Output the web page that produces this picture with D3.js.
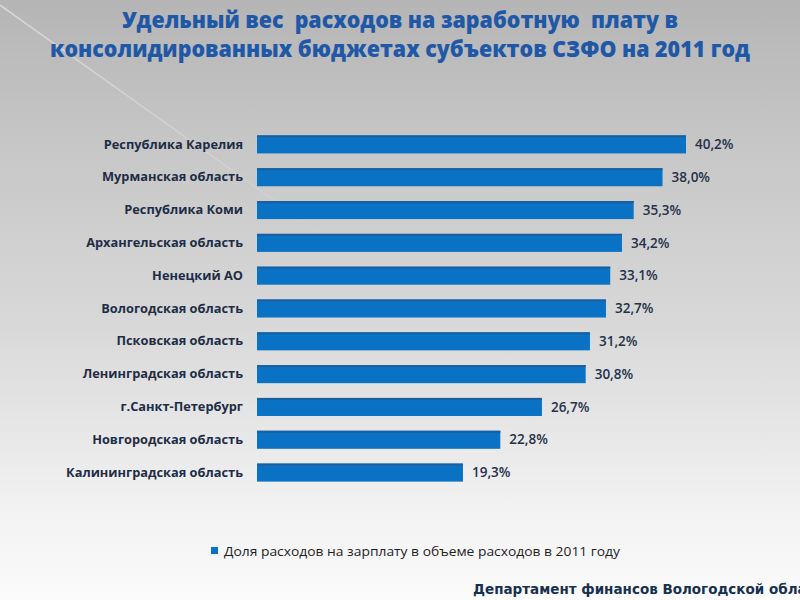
<!DOCTYPE html>
<html>
<head>
<meta charset="utf-8">
<script src="https://cdn.jsdelivr.net/npm/d3@7"></script>
<style>
  html, body { margin: 0; padding: 0; width: 800px; height: 600px; overflow: hidden; }
  svg { display: block; }
</style>
</head>
<body>
<svg id="chart" width="800" height="600"></svg>
<script>
const titleLines = [
  "Удельный вес  расходов на заработную  плату в",
  "консолидированных бюджетах субъектов СЗФО на 2011 год"
];
const categories = [
  "Республика Карелия",
  "Мурманская область",
  "Республика Коми",
  "Архангельская область",
  "Ненецкий АО",
  "Вологодская область",
  "Псковская область",
  "Ленинградская область",
  "г.Санкт-Петербург",
  "Новгородская область",
  "Калининградская область"
];
const values = [40.2, 38.0, 35.3, 34.2, 33.1, 32.7, 31.2, 30.8, 26.7, 22.8, 19.3];
const seriesName = "Доля расходов на зарплату в объеме расходов в 2011 году";
const footerText = "Департамент финансов Вологодской области";

const svg = d3.select("#chart");
const W = 800, H = 600;

// background gradient
const defs = svg.append("defs");
const bg = defs.append("linearGradient").attr("id", "bg")
  .attr("x1", 0).attr("y1", 0).attr("x2", 0).attr("y2", 1);
bg.append("stop").attr("offset", "0%").attr("stop-color", "#b5b5b5");
bg.append("stop").attr("offset", "25%").attr("stop-color", "#c7c7c7");
bg.append("stop").attr("offset", "55%").attr("stop-color", "#d9d9d9");
bg.append("stop").attr("offset", "85%").attr("stop-color", "#f2f2f2");
bg.append("stop").attr("offset", "100%").attr("stop-color", "#fbfbfb");
svg.append("rect").attr("width", W).attr("height", H).attr("fill", "url(#bg)");

// faint diagonal highlight
const dl = defs.append("linearGradient").attr("id", "dl")
  .attr("x1", 0).attr("y1", 0).attr("x2", 1).attr("y2", 1);
dl.append("stop").attr("offset", "0%").attr("stop-color", "#ffffff").attr("stop-opacity", 0.5);
dl.append("stop").attr("offset", "100%").attr("stop-color", "#ffffff").attr("stop-opacity", 0);
svg.append("line").attr("x1", 0).attr("y1", 5).attr("x2", 330).attr("y2", 240)
  .attr("stroke", "url(#dl)").attr("stroke-width", 1.5);

// title
const title = svg.append("g");
titleLines.forEach((t, i) => {
  title.append("text")
    .attr("x", 400).attr("y", [28, 57][i])
    .attr("text-anchor", "middle")
    .attr("font-family", "'Open Sans', 'Noto Sans', sans-serif")
    .attr("font-weight", 800)
    .attr("font-size", 22.5)
    .attr("fill", "#1f58a6")
    .attr("textLength", [556, 700][i])
    .attr("lengthAdjust", "spacingAndGlyphs")
    .style("white-space", "pre")
    .text(t);
});

// scales
const x0 = 257;
const x = d3.scaleLinear().domain([0, 40.2]).range([x0, 686]);
const y = d3.scaleBand().domain(categories).range([128, 489]).paddingInner(0.45).paddingOuter(0.225);

// bars
const bars = svg.append("g");
bars.selectAll("rect.bar").data(values).join("rect")
  .attr("class", "bar")
  .attr("x", x(0))
  .attr("y", (d, i) => y(categories[i]))
  .attr("width", d => x(d) - x(0))
  .attr("height", y.bandwidth())
  .attr("fill", "#0a72c4");
bars.selectAll("rect.edge").data(values).join("rect")
  .attr("class", "edge")
  .attr("x", x(0))
  .attr("y", (d, i) => y(categories[i]))
  .attr("width", d => x(d) - x(0))
  .attr("height", 2)
  .attr("fill", "#1c5f9e");

// category axis labels
const yAxis = d3.axisLeft(y).tickSize(0).tickPadding(14);
const ya = svg.append("g").attr("transform", `translate(${x0},0)`).call(yAxis);
ya.select(".domain").remove();
ya.selectAll("text")
  .attr("font-family", "'Open Sans', 'Noto Sans', sans-serif")
  .attr("font-weight", "bold")
  .attr("font-size", 12.8)
  .attr("fill", "#1e2d45");

// value labels
svg.append("g").selectAll("text").data(values).join("text")
  .attr("x", d => x(d) + 9)
  .attr("y", (d, i) => y(categories[i]) + y.bandwidth() / 2)
  .attr("dy", "0.35em")
  .attr("font-family", "'Open Sans', 'Noto Sans', sans-serif")
  .attr("font-weight", 600)
  .attr("font-size", 13.5)
  .attr("fill", "#25324a")
  .text(d => d3.format(".1f")(d).replace(".", ",") + "%");

// legend
const lg = svg.append("g");
lg.append("rect").attr("x", 211).attr("y", 547).attr("width", 7).attr("height", 7).attr("fill", "#0a72c4");
lg.append("text").attr("x", 224).attr("y", 551).attr("dy", "0.35em")
  .attr("font-family", "'Open Sans', 'Noto Sans', sans-serif")
  .attr("font-size", 13.5)
  .attr("fill", "#1e1e1e")
  .attr("textLength", 396)
  .attr("lengthAdjust", "spacingAndGlyphs")
  .text(seriesName);

// footer (clipped at the right edge, as in the reference)
svg.append("text").attr("x", 473).attr("y", 594)
  .attr("font-family", "'DejaVu Sans', sans-serif")
  .attr("font-weight", "bold")
  .attr("font-size", 13.5)
  .attr("fill", "#17304f")
  .text(footerText);
</script>
</body>
</html>
